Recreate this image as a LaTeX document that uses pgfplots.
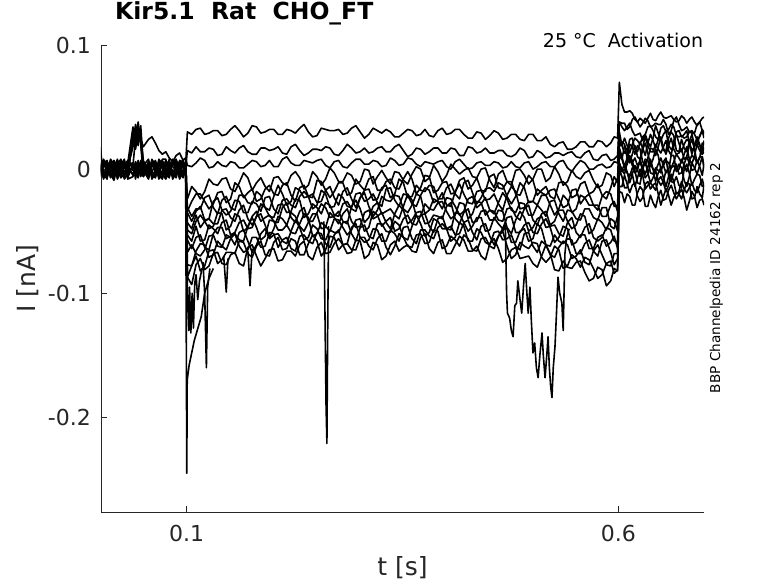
\documentclass[border=0pt]{standalone}
\usepackage{pgfplots}
\pgfplotsset{compat=1.18}
\usepackage{pgfplotstable}
\usepackage{fontspec}
\setmainfont{DejaVu Sans}
\definecolor{axgray}{RGB}{38,38,38}

% time in ms, current in pA (1 pA = 0.001 nA)
\pgfplotstableread{
t a b c d e f g h i j k l m n o
0 18 2 -3 5 -6 1 -2 4 -5 0 3 -4 6 -1 2
4 -5 7 2 -6 3 -1 8 -7 4 -3 -8 5 -2 7 -4
8 3 -5 4 -2 6 -7 1 -3 5 -6 2 7 -4 0 -8
12 6 -3 -6 4 -2 8 -5 2 -7 1 6 -3 5 -4 7
16 -4 6 -1 3 -8 4 7 -5 1 5 -6 0 2 -9 4
20 -2 -8 5 -3 7 -6 2 4 -1 -7 3 8 -6 2 -5
24 5 -2 -7 6 2 -4 -1 8 -6 3 1 -5 -3 6 -2
28 7 4 -4 -8 -5 2 6 -3 3 8 -5 -2 4 -7 1
32 -6 3 5 -4 1 6 -5 0 7 -8 4 2 -7 3 5
38 30 22 34 26 18 3 28 -4 2 -6 5 -1 4 -5 1
41 24 36 20 31 27 25 16 3 -5 4 -2 6 -8 2 -3
44 38 25 29 19 33 21 30 -6 6 -1 -7 1 5 -4 7
47 22 31 24 35 20 28 23 5 -3 7 3 -6 -1 6 -5
50 4 -6 18 2 -5 7 -2 -1 4 -5 6 3 -6 1 0
56 -3 5 24 -7 3 -2 6 -8 1 2 -4 8 0 -6 3
60 5 -7 26 6 -4 7 -8 3 -5 -3 8 -6 2 5 -2
64 6 -1 21 4 -6 5 -3 2 -7 6 1 -3 7 -2 -5
68 -6 3 15 -2 8 -5 4 -7 6 1 -4 2 -8 -3 7
72 -2 7 12 -5 4 -8 2 6 3 -4 -7 5 -2 8 1
76 3 -5 14 7 -7 2 -1 5 -3 -8 6 -4 4 8 -6
80 5 -4 9 1 -3 6 -6 -2 8 0 5 -7 3 -4 6
84 -4 6 6 -6 5 -8 7 -1 -6 4 -2 8 -3 -5 2
88 -7 3 11 7 0 -3 5 -6 -2 8 -3 4 -5 2 -1
92 6 -2 13 3 -6 4 -7 6 1 -5 7 -8 2 5 -3
96 2 -6 7 -3 8 1 -4 4 -5 -2 6 -1 5 -7 3
99 4 1 9 -5 -2 6 0 -3 2 5 -6 2 -1 4 -4
101 30 15 3 -24 -34 -31 -35 -43 -49 -53 -57 -67 -77 -87 -87
106 28 13 2 -14 -26 -38 -42 -48 -52 -58 -64 -61 -78 -78 -93
111 32 18 5 -18 -20 -32 -34 -37 -42 -46 -55 -68 -66 -70 -77
116 33 14 9 -24 -20 -32 -30 -47 -37 -58 -53 -70 -60 -82 -72
121 28 14 7 -18 -26 -23 -41 -42 -42 -57 -63 -65 -61 -78 -81
126 29 17 1 -8 -32 -21 -40 -40 -48 -45 -65 -54 -71 -66 -78
131 31 16 2 -12 -28 -31 -26 -44 -46 -48 -52 -53 -69 -65 -68
136 31 11 6 -13 -19 -36 -23 -44 -35 -52 -47 -62 -58 -76 -67
141 27 12 3 -8 -18 -25 -33 -33 -36 -43 -47 -63 -62 -73 -76
146 28 18 2 -7 -27 -22 -37 -32 -49 -41 -56 -53 -65 -67 -77
151 32 15 6 -16 -24 -31 -34 -39 -46 -53 -54 -55 -56 -67 -69
156 35 13 5 -18 -11 -33 -25 -42 -36 -51 -52 -61 -52 -68 -67
161 31 17 1 -11 -14 -21 -26 -33 -38 -43 -57 -51 -62 -58 -76
166 26 19 1 -3 -23 -21 -35 -29 -50 -41 -58 -49 -67 -59 -78
171 29 14 4 -7 -19 -27 -35 -40 -47 -48 -46 -58 -65 -68 -63
176 35 12 7 -17 -16 -28 -26 -45 -38 -47 -39 -67 -55 -71 -61
181 34 12 6 -11 -26 -18 -28 -38 -34 -38 -47 -61 -55 -62 -70
186 29 17 2 -7 -24 -21 -34 -28 -42 -36 -57 -52 -63 -58 -78
191 30 17 3 -14 -16 -31 -23 -31 -39 -45 -54 -48 -62 -69 -72
196 32 15 7 -18 -13 -33 -22 -38 -37 -55 -41 -56 -51 -70 -65
201 32 16 2 -7 -20 -22 -32 -39 -42 -48 -42 -53 -52 -59 -64
206 28 18 2 -6 -21 -13 -36 -29 -43 -38 -49 -52 -63 -55 -74
211 28 13 8 -11 -13 -20 -25 -28 -31 -40 -49 -58 -57 -65 -73
216 32 12 10 -13 -11 -29 -24 -35 -27 -45 -45 -60 -55 -64 -66
221 31 18 5 -5 -21 -26 -29 -34 -39 -35 -51 -50 -64 -56 -66
226 29 20 3 -2 -26 -15 -31 -24 -43 -38 -52 -41 -66 -58 -70
231 33 15 3 -7 -15 -17 -22 -25 -34 -46 -44 -47 -54 -69 -61
236 36 11 7 -16 -13 -23 -18 -39 -31 -50 -36 -57 -53 -69 -58
241 30 13 6 -13 -22 -22 -22 -36 -42 -43 -39 -55 -58 -60 -70
246 26 16 5 -2 -23 -20 -32 -28 -42 -36 -54 -45 -60 -53 -73
251 27 16 7 -6 -9 -27 -29 -31 -35 -36 -52 -48 -51 -58 -63
256 33 15 8 -13 -10 -26 -17 -36 -28 -48 -43 -56 -52 -70 -59
261 32 18 3 -8 -17 -17 -20 -27 -31 -47 -46 -57 -60 -65 -68
266 31 17 1 1 -23 -14 -31 -29 -39 -35 -50 -49 -63 -54 -67
271 31 12 6 -3 -18 -23 -30 -37 -38 -39 -40 -51 -53 -55 -60
276 32 11 7 -10 -11 -29 -20 -38 -34 -44 -41 -51 -49 -65 -56
281 28 15 2 -10 -11 -18 -23 -28 -42 -36 -47 -43 -61 -61 -61
286 29 20 1 -3 -21 -15 -30 -26 -44 -32 -53 -42 -60 -60 -68
291 33 17 5 -5 -19 -24 -31 -32 -30 -42 -49 -52 -47 -65 -67
296 35 13 8 -12 -8 -31 -20 -34 -25 -47 -41 -58 -44 -65 -57
301 30 14 8 -10 -13 -23 -19 -23 -32 -46 -40 -47 -55 -55 -58
306 25 17 4 0 -17 -17 -26 -19 -43 -35 -50 -45 -59 -55 -72
311 28 13 4 -1 -8 -16 -24 -30 -39 -33 -47 -54 -57 -62 -69
316 33 14 7 -12 -6 -25 -20 -38 -30 -40 -34 -56 -48 -65 -59
321 31 17 6 -6 -17 -24 -27 -33 -27 -38 -37 -44 -49 -56 -61
326 29 18 2 -1 -17 -15 -30 -22 -36 -35 -46 -44 -58 -52 -73
331 32 14 3 -7 -10 -13 -16 -25 -34 -43 -42 -50 -58 -63 -70
336 30 14 9 -12 -8 -23 -15 -26 -32 -48 -39 -51 -49 -69 -61
341 26 18 7 -2 -15 -20 -25 -21 -37 -36 -50 -42 -52 -62 -58
346 26 20 3 -3 -16 -8 -30 -22 -40 -29 -48 -45 -58 -52 -66
351 29 15 4 -9 -8 -11 -20 -32 -30 -33 -40 -55 -47 -55 -63
356 32 10 9 -12 -2 -23 -21 -35 -20 -44 -37 -57 -46 -62 -61
361 31 12 8 -4 -8 -22 -28 -29 -25 -41 -44 -46 -56 -63 -66
366 27 17 4 2 -20 -13 -30 -20 -38 -35 -45 -37 -60 -53 -67
371 28 16 2 0 -15 -17 -21 -22 -38 -34 -37 -44 -49 -52 -55
376 32 12 6 -10 -5 -18 -15 -36 -28 -44 -36 -54 -49 -60 -52
381 27 14 5 -7 -6 -13 -17 -33 -32 -43 -46 -51 -54 -59 -64
386 26 17 4 3 -19 -14 -27 -24 -33 -37 -51 -40 -56 -49 -68
391 31 17 6 -2 -17 -24 -25 -26 -27 -38 -40 -42 -47 -50 -59
396 33 13 7 -10 -11 -24 -19 -32 -26 -40 -38 -48 -44 -64 -57
401 28 13 2 -5 -10 -15 -29 -23 -34 -30 -48 -48 -48 -62 -68
406 29 17 0 4 -20 -12 -30 -24 -40 -27 -49 -46 -58 -54 -68
411 32 16 6 0 -19 -20 -18 -30 -37 -40 -35 -53 -55 -57 -61
416 32 11 8 -4 -9 -24 -12 -37 -27 -44 -36 -52 -43 -62 -54
421 28 11 4 -1 -7 -11 -20 -34 -28 -35 -43 -43 -46 -53 -57
426 25 18 0 1 -16 -9 -27 -24 -40 -32 -50 -41 -58 -56 -66
431 25 17 1 -6 -13 -19 -28 -22 -36 -43 -46 -51 -58 -65 -66
436 30 13 5 -7 -7 -28 -18 -31 -26 -42 -39 -57 -48 -66 -62
441 29 14 6 0 -17 -23 -17 -28 -27 -34 -39 -46 -51 -56 -70
446 24 17 3 1 -18 -16 -25 -23 -37 -33 -50 -44 -59 -55 -73
451 27 13 3 -9 -6 -15 -24 -33 -33 -41 -49 -54 -61 -62 -60
456 31 13 6 -15 -4 -18 -20 -36 -34 -41 -39 -61 -51 -64 -56
461 29 15 5 -4 -15 -11 -28 -27 -41 -33 -44 -54 -50 -54 -64
466 24 15 1 -1 -16 -13 -33 -19 -42 -34 -48 -48 -57 -50 -75
471 25 11 2 -10 -10 -22 -21 -24 -32 -47 -39 -48 -56 -62 -72
476 28 10 6 -13 -10 -28 -14 -33 -31 -52 -38 -59 -53 -72 -65
481 28 12 2 -1 -20 -22 -18 -35 -38 -41 -51 -59 -62 -69 -63
486 24 17 1 0 -21 -11 -32 -27 -41 -34 -51 -50 -65 -59 -72
491 23 15 5 -5 -13 -15 -31 -28 -32 -39 -45 -48 -52 -62 -71
496 28 9 6 -12 -5 -27 -26 -37 -29 -50 -43 -58 -51 -64 -70
501 28 10 0 -8 -9 -26 -26 -37 -41 -47 -51 -56 -62 -59 -76
506 23 15 2 0 -21 -16 -29 -29 -45 -40 -52 -44 -67 -60 -79
511 23 13 5 0 -17 -19 -21 -33 -36 -38 -44 -48 -58 -71 -70
516 26 9 6 -10 -14 -21 -21 -38 -34 -47 -40 -61 -61 -75 -61
521 20 10 2 -7 -22 -17 -29 -26 -45 -46 -47 -62 -69 -71 -68
526 18 13 2 2 -24 -16 -37 -25 -42 -45 -59 -53 -71 -62 -81
531 21 13 6 -4 -11 -24 -32 -36 -33 -52 -55 -58 -63 -65 -82
536 22 11 7 -13 -10 -31 -21 -42 -33 -54 -46 -60 -58 -80 -74
541 16 13 1 -10 -14 -29 -25 -33 -42 -43 -48 -56 -61 -78 -79
546 16 14 -2 -1 -23 -17 -35 -34 -48 -39 -61 -57 -72 -69 -80
551 18 10 3 -6 -21 -16 -32 -40 -45 -51 -59 -68 -70 -72 -75
556 22 9 7 -8 -12 -28 -21 -41 -36 -55 -53 -68 -65 -79 -74
561 22 13 5 -3 -10 -23 -23 -32 -38 -47 -53 -60 -75 -71 -83
566 18 15 0 -1 -20 -20 -29 -32 -52 -44 -64 -57 -77 -73 -90
571 18 8 0 -9 -18 -29 -29 -39 -49 -55 -64 -66 -66 -80 -88
576 23 7 3 -15 -12 -33 -29 -41 -40 -58 -55 -70 -61 -88 -79
581 22 11 4 -13 -21 -22 -38 -31 -43 -55 -53 -58 -69 -85 -81
586 18 12 1 -3 -24 -18 -38 -31 -49 -47 -62 -57 -77 -76 -94
591 21 7 2 -5 -15 -20 -29 -46 -40 -49 -59 -67 -78 -74 -90
595 26 8 6 -14 -6 -30 -26 -48 -42 -58 -54 -77 -68 -84 -80
599 25 11 5 -7 -11 -29 -34 -38 -50 -59 -64 -72 -68 -81 -82
601 70 38 38 30 23 18 17 12 13 4 5 5 0 -14 -18
604 52 37 34 19 19 22 10 8 8 -1 -1 -2 -6 -14 -19
607 46 37 31 25 13 20 2 19 1 4 -4 0 -15 -5 -27
610 46 32 34 19 13 9 9 15 4 -2 5 -3 -15 -12 -20
613 47 34 37 13 24 5 20 7 10 -11 11 -6 -4 -19 -22
616 45 40 31 20 25 12 18 5 7 -4 3 1 -4 -13 -29
619 40 42 27 25 16 19 12 9 -3 3 0 -1 -14 -11 -29
622 38 38 28 23 14 10 19 3 -1 -1 2 -11 -7 -22 -19
625 41 34 29 20 22 8 16 6 8 -6 6 -12 0 -26 -14
628 39 37 23 26 17 18 6 16 1 2 -1 0 -5 -23 -17
631 37 41 28 28 11 26 3 21 -4 8 -7 6 -16 -12 -30
634 41 39 34 22 21 19 9 13 2 7 -4 -3 -13 -10 -30
637 45 34 35 18 28 14 17 3 8 -3 4 -11 -11 -16 -21
640 40 35 31 25 23 14 16 8 0 -4 0 -7 -14 -13 -27
643 39 37 26 35 17 20 11 16 -1 1 -10 -1 -17 -11 -31
646 43 36 24 29 24 16 18 11 4 -1 -3 -9 -9 -20 -22
649 46 36 33 23 23 13 26 0 9 -3 1 -13 -6 -29 -17
652 42 40 35 28 15 18 17 3 3 6 -7 -10 -11 -22 -25
655 41 36 30 31 15 23 12 7 -3 9 -14 -1 -18 -16 -24
658 42 28 32 19 25 15 19 5 -1 -5 -6 -1 -13 -21 -17
661 43 31 36 16 30 11 25 1 11 -10 1 -10 -4 -29 -13
664 40 39 34 18 27 23 16 6 11 -2 3 -11 -10 -23 -19
667 38 42 27 30 15 28 12 12 -2 4 -1 -6 -20 -19 -24
670 39 36 26 31 14 21 13 9 0 -4 4 -13 -18 -20 -20
673 43 31 27 26 24 14 16 5 8 -3 1 -15 -10 -24 -16
676 41 32 25 28 17 20 8 12 3 4 -9 0 -16 -17 -23
679 37 34 26 31 14 24 10 18 -2 10 -14 4 -19 -11 -33
682 40 30 30 21 22 22 19 8 7 5 -6 -3 -15 -12 -26
685 42 29 31 12 28 15 24 4 11 -1 5 -13 -11 -24 -18
688 38 29 28 19 19 18 16 11 9 0 1 -8 -17 -23 -22
691 35 36 24 26 20 23 5 20 5 7 -4 -4 -19 -14 -31
694 38 38 26 20 27 19 9 15 10 2 3 -5 -13 -20 -25
697 41 31 32 12 31 15 21 12 10 -5 10 -14 -8 -23 -24
699 42 28 29 18 25 23 20 14 1 4 2 -13 -14 -13 -29
}\traces

\begin{document}
\begin{tikzpicture}
\begin{axis}[
  name=ax,
  scale only axis, width=603pt, height=467.5pt,
  xmin=1, xmax=699, ymin=-276.6, ymax=100,
  axis x line=bottom, axis y line=left,
  axis line style={-, draw=axgray, line width=0.8pt},
  tick align=inside, major tick length=6.5pt,
  tick style={draw=axgray, line width=0.8pt},
  xtick={100,600}, xticklabels={0.1,0.6},
  ytick={-200,-100,0,100},
  yticklabels={-0.2,-0.1,0\hspace{23pt},0.1\hspace{6pt}},
  tick label style={font=\fontsize{22}{24}\selectfont, text=axgray, inner sep=0pt},
  xticklabel style={anchor=center, yshift=-21pt},
  yticklabel style={anchor=east, xshift=-10pt},
  xlabel={t [s]}, ylabel={I [nA]},
  label style={font=\fontsize{25}{28}\selectfont, text=axgray, inner sep=0pt},
  xlabel style={at={([yshift=-55pt]axis description cs:0.5,0)}, anchor=center},
  ylabel style={at={([xshift=-73.5pt]axis description cs:0,0.5)}, anchor=center},
  title={Kir5.1\ \ Rat\ \ CHO\_FT},
  title style={at={([xshift=14pt,yshift=19pt]axis description cs:0,1)}, anchor=base west, inner sep=0pt, font=\bfseries\fontsize{23.5}{26}\selectfont},
  tr/.style={black, solid, no markers, line width=1.6pt, line join=round},
]
\addplot[tr] table[x=t,y=a]{\traces};
\addplot[tr] table[x=t,y=b]{\traces};
\addplot[tr] table[x=t,y=c]{\traces};
\addplot[tr] table[x=t,y=d]{\traces};
\addplot[tr] table[x=t,y=e]{\traces};
\addplot[tr] table[x=t,y=f]{\traces};
\addplot[tr] table[x=t,y=g]{\traces};
\addplot[tr] table[x=t,y=h]{\traces};
\addplot[tr] table[x=t,y=i]{\traces};
\addplot[tr] table[x=t,y=j]{\traces};
\addplot[tr] table[x=t,y=k]{\traces};
\addplot[tr] table[x=t,y=l]{\traces};
\addplot[tr] table[x=t,y=m]{\traces};
\addplot[tr] table[x=t,y=n]{\traces};
\addplot[tr] table[x=t,y=o]{\traces};
% transient spikes and bursts
\addplot[tr] coordinates {(99,-2)(100.3,-245)(100.8,-170)(103,-158)(109,-138)(117,-119)(121,-100)(126,-88)(131,-80)};
\addplot[tr] coordinates {(100,-5)(101,-100)(102.5,-130)(103.5,-95)(105,-132)(106.5,-100)(108,-128)(109.5,-92)(111,-85)(113,-105)(115,-90)(118,-80)};
\addplot[tr] coordinates {(119,-75)(121,-100)(123,-160)(124.5,-95)(127,-80)};
\addplot[tr] coordinates {(143,-70)(146,-99)(148,-72)};
\addplot[tr] coordinates {(171,-66)(173.5,-94)(176,-64)};
\addplot[tr] coordinates {(259,-42)(261.5,-190)(262.5,-221)(263.5,-120)(264.5,-46)};
\addplot[tr] coordinates {(466,-50)(469,-45)(470.5,-100)(471.5,-116)(474,-120)(476,-130)(478,-135)(480,-110)(482,-108)(483.5,-90)(486,-105)(488,-116)(490,-95)(492,-76)(494,-100)(495.5,-116)(497.5,-95)(499,-120)(501,-148)(503,-140)(505,-160)(507,-168)(509,-150)(511.5,-132)(513,-150)(515,-168)(517,-150)(518.5,-135)(520,-160)(521.5,-175)(523,-184)(524.5,-160)(526.5,-143)(528,-120)(530,-87)(532,-100)(534.5,-108)(536,-130)(537,-100)(538,-68)(540,-55)(543,-48)};
\end{axis}
\node[anchor=base east, inner sep=0pt, font=\fontsize{19}{22}\selectfont] at ([xshift=-0.7pt,yshift=-2.3pt]ax.north east) {25 °C\ \ Activation};
\node[anchor=base, rotate=90, inner sep=0pt, font=\fontsize{13.6}{16}\selectfont] at ([xshift=16pt,yshift=1pt]ax.east) {BBP Channelpedia ID 24162 rep 2};
\pgfresetboundingbox
\path[use as bounding box] ([shift={(-101pt,-70.5pt)}]ax.south west) rectangle ([shift={(74pt,45pt)}]ax.north east);
\end{tikzpicture}
\end{document}
